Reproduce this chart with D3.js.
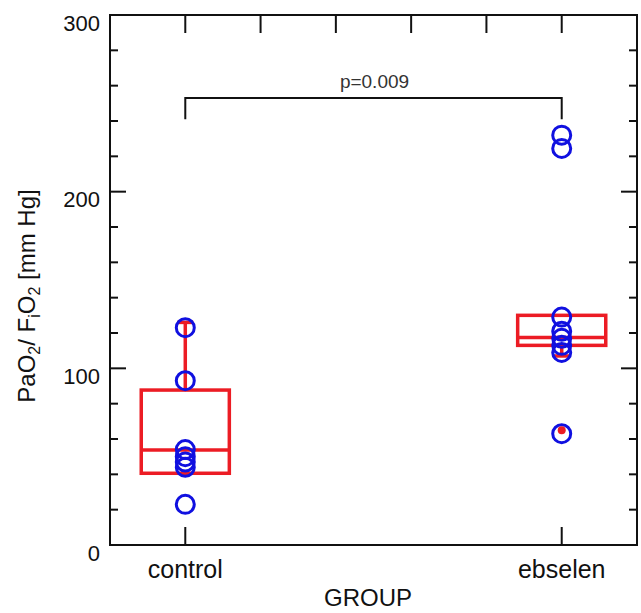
<!DOCTYPE html>
<html><head><meta charset="utf-8">
<script src="https://cdn.jsdelivr.net/npm/d3@7"></script>
<style>body{margin:0;background:#fff}text{font-family:Arial,"Liberation Sans",sans-serif}</style>
</head><body>
<svg id="c" width="641" height="613"></svg>
<script>
const categories = ["control", "ebselen"];
const categoryPos = [1, 6];
const controlValues = [123, 93, 54, 50, 47, 44, 23];
const ebselenValues = [232, 224.5, 129, 121, 117, 113, 109, 63];
const boxQ1 = [40.6, 113];
const boxMedian = [53.8, 117.5];
const boxQ3 = [87.7, 130];
const whiskerHigh = [126, null];
const whiskerLow = [null, 107];
const outlierDots = [[6, 65]];
const yMajorTicks = [0, 100, 200, 300];
const yMinorTicks = d3.range(0, 301, 20);
const topTicks = [1, 2, 3, 4, 5, 6];
const pText = "p=0.009";
const bracket = {x1: 1, x2: 6, top: 253, leg: 241};

const svg = d3.select("#c");
const x = d3.scaleLinear().domain([0, 7]).range([110, 637]);
const y = d3.scaleLinear().domain([0, 300]).range([545, 15]);
const red = "#ec1c24", blue = "#1010e0";

// frame
svg.append("rect").attr("x", x(0)).attr("y", y(300)).attr("width", x(7)-x(0)).attr("height", y(0)-y(300))
  .attr("fill", "none").attr("stroke", "#111").attr("stroke-width", 2);

// y ticks left & right
const tk = svg.append("g").attr("stroke", "#111").attr("stroke-width", 2);
yMinorTicks.forEach(v => {
  const len = yMajorTicks.includes(v) ? 16 : 8;
  tk.append("line").attr("x1", x(0)).attr("x2", x(0)+len).attr("y1", y(v)).attr("y2", y(v));
  tk.append("line").attr("x1", x(7)).attr("x2", x(7)-len).attr("y1", y(v)).attr("y2", y(v));
});
topTicks.forEach(v => tk.append("line").attr("x1", x(v)).attr("x2", x(v)).attr("y1", y(300)).attr("y2", y(300)+18));
categoryPos.forEach(v => tk.append("line").attr("x1", x(v)).attr("x2", x(v)).attr("y1", y(0)).attr("y2", y(0)-18));

// y tick labels
yMajorTicks.forEach(v => svg.append("text").attr("x", 100).attr("y", y(v)+8).attr("dy", "0.35em")
  .attr("text-anchor", "end").attr("font-size", 22).attr("fill", "#111").text(v));

// category labels
categories.forEach((c, i) => svg.append("text").attr("x", x(categoryPos[i])).attr("y", 578)
  .attr("text-anchor", "middle").attr("font-size", 25).attr("fill", "#111").text(c));
svg.append("text").attr("x", 368).attr("y", 606).attr("text-anchor", "middle").attr("font-size", 24).attr("fill", "#111").text("GROUP");

// y label
const yl = svg.append("text").attr("transform", "translate(35,296) rotate(-90)").attr("text-anchor", "middle")
  .attr("font-size", 24).attr("fill", "#111");
yl.append("tspan").text("PaO");
yl.append("tspan").attr("font-size", 16).attr("dy", 5).text("2");
yl.append("tspan").attr("dy", -5).text("/ F");
yl.append("tspan").attr("font-size", 16).attr("dy", 5).text("i");
yl.append("tspan").attr("dy", -5).text("O");
yl.append("tspan").attr("font-size", 16).attr("dy", 5).text("2");
yl.append("tspan").attr("dy", -5).text(" [mm Hg]");

// bracket
svg.append("path").attr("d", d3.line()([[x(bracket.x1), y(bracket.leg)], [x(bracket.x1), y(bracket.top)], [x(bracket.x2), y(bracket.top)], [x(bracket.x2), y(bracket.leg)]]))
  .attr("fill", "none").attr("stroke", "#111").attr("stroke-width", 2);
svg.append("text").attr("x", 374.5).attr("y", 88).attr("text-anchor", "middle").attr("font-size", 19).attr("fill", "#333").text(pText);

// boxes
const bw = 0.585;
const bx = svg.append("g").attr("stroke", red).attr("stroke-width", 3.5).attr("fill", "none");
categoryPos.forEach((p, i) => {
  bx.append("rect").attr("x", x(p-bw)).attr("y", y(boxQ3[i])).attr("width", x(p+bw)-x(p-bw)).attr("height", y(boxQ1[i])-y(boxQ3[i]));
  bx.append("line").attr("x1", x(p-bw)).attr("x2", x(p+bw)).attr("y1", y(boxMedian[i])).attr("y2", y(boxMedian[i]));
  if (whiskerHigh[i] != null) {
    bx.append("line").attr("x1", x(p)).attr("x2", x(p)).attr("y1", y(boxQ3[i])).attr("y2", y(whiskerHigh[i]));
    bx.append("line").attr("x1", x(p)-8).attr("x2", x(p)+8).attr("y1", y(whiskerHigh[i])).attr("y2", y(whiskerHigh[i]));
  }
  if (whiskerLow[i] != null) {
    bx.append("line").attr("x1", x(p)).attr("x2", x(p)).attr("y1", y(boxQ1[i])).attr("y2", y(whiskerLow[i]));
    bx.append("line").attr("x1", x(p)-8).attr("x2", x(p)+8).attr("y1", y(whiskerLow[i])).attr("y2", y(whiskerLow[i]));
  }
});

// points
const pts = svg.append("g").attr("fill", "none").attr("stroke", blue).attr("stroke-width", 3);
[controlValues, ebselenValues].forEach((vals, i) => vals.forEach(v =>
  pts.append("circle").attr("cx", x(categoryPos[i])).attr("cy", y(v)).attr("r", 9)));
outlierDots.forEach(d => svg.append("circle").attr("cx", x(d[0])).attr("cy", y(d[1])).attr("r", 4).attr("fill", red));
</script>
</body></html>
